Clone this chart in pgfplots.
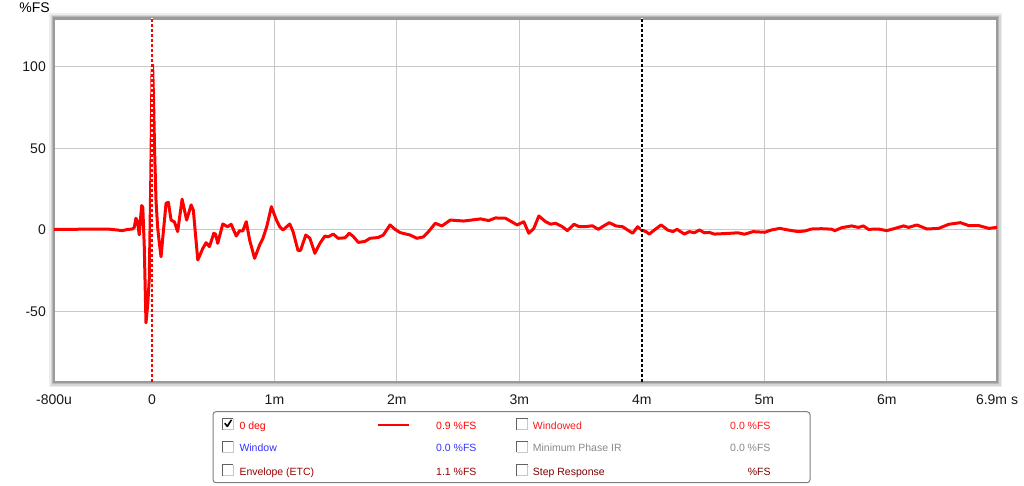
\documentclass[border=0pt]{standalone}
\usepackage{pgfplots}
\pgfplotsset{compat=1.18}
\usepackage{fontspec}
\setmainfont{Liberation Sans}
\definecolor{gridc}{HTML}{C8C8C8}
\definecolor{framec}{HTML}{9A9A9A}
\definecolor{winblue}{HTML}{3333FF}
\definecolor{envred}{HTML}{990000}
\definecolor{wdred}{HTML}{FF1A1A}
\definecolor{mpgray}{HTML}{8A8A8A}
\definecolor{stepred}{HTML}{7F0000}
\definecolor{boxgray}{HTML}{808080}
\definecolor{pure red}{HTML}{FF0000}

\pgfplotstableread{
t v
-0.800 0.3
-0.678 0.4
-0.555 0.5
-0.432 0.6
-0.350 0.5
-0.284 0.0
-0.243 -0.4
-0.202 0.3
-0.161 0.6
-0.145 1.5
-0.131 7.2
-0.118 5.0
-0.104 -3.0
-0.090 10.0
-0.084 15.0
-0.075 14.0
-0.063 -10.0
-0.049 -57.0
-0.034 -45.0
-0.022 -30.0
-0.010 30.0
0.000 95.0
0.005 101.4
0.013 80.0
0.021 50.0
0.033 18.0
0.046 2.0
0.060 -8.0
0.074 -16.4
0.088 -5.0
0.115 16.4
0.134 17.0
0.156 6.1
0.183 5.0
0.210 -1.0
0.246 18.9
0.283 6.1
0.320 15.4
0.338 12.0
0.374 -18.4
0.415 -11.3
0.442 -7.8
0.469 -10.2
0.505 -2.0
0.519 -2.5
0.537 -8.2
0.578 3.7
0.617 2.0
0.647 3.5
0.688 -3.7
0.715 -0.5
0.742 -0.5
0.770 5.1
0.797 -6.0
0.838 -17.4
0.879 -9.2
0.906 -5.1
0.937 2.0
0.975 14.3
1.016 6.1
1.043 2.0
1.070 0.0
1.125 3.7
1.152 -1.0
1.193 -12.7
1.213 -12.5
1.256 -3.1
1.289 -5.0
1.330 -14.3
1.371 -8.2
1.412 -3.7
1.439 -4.2
1.480 -2.5
1.521 -5.1
1.576 -4.8
1.611 -2.0
1.644 -4.0
1.685 -7.6
1.739 -7.0
1.780 -5.1
1.848 -4.6
1.889 -3.1
1.944 3.1
1.985 0.4
2.026 -1.6
2.108 -3.1
2.163 -5.1
2.217 -4.2
2.258 -1.0
2.313 4.1
2.368 2.5
2.436 6.1
2.545 5.5
2.682 6.8
2.750 5.8
2.805 7.4
2.887 7.2
2.982 3.1
3.036 5.1
3.077 -2.0
3.118 1.0
3.159 8.6
3.214 5.1
3.255 3.6
3.296 4.1
3.351 2.0
3.392 -0.4
3.446 3.5
3.487 2.1
3.542 2.1
3.597 2.6
3.643 0.4
3.733 4.5
3.788 2.5
3.843 2.0
3.925 -2.0
3.966 2.0
3.998 0.0
4.034 -1.0
4.061 -2.5
4.102 0.0
4.157 3.1
4.211 0.0
4.252 -1.0
4.288 0.4
4.347 -2.5
4.388 -1.0
4.429 -1.7
4.470 0.0
4.511 -1.7
4.552 -1.5
4.593 -2.5
4.703 -2.1
4.785 -1.7
4.839 -2.6
4.908 -1.0
5.003 -1.4
5.058 0.0
5.126 1.0
5.195 0.0
5.277 -1.0
5.331 -0.6
5.385 0.6
5.467 0.8
5.549 0.5
5.576 -0.4
5.631 1.4
5.713 2.5
5.768 1.6
5.809 2.5
5.850 0.4
5.932 0.6
6.000 -0.4
6.068 1.0
6.137 2.5
6.178 1.6
6.246 3.1
6.328 0.6
6.424 1.0
6.506 3.5
6.601 4.5
6.669 2.7
6.751 2.7
6.833 1.0
6.900 1.6
}\irdata

\begin{document}
\begin{tikzpicture}[x=1pt,y=1pt]
\path[use as bounding box, fill=white] (0,0) rectangle (1024,485);
% soft frame shadow around plot area
\draw[line width=10pt, black!7] (54,103) rectangle (997,466.5);
\draw[line width=7pt, black!16] (54,103) rectangle (997,466.5);
\draw[line width=4.5pt, black!28] (54,103) rectangle (997,466.5);
\begin{axis}[
  at={(54pt,103pt)}, anchor=south west,
  scale only axis, width=943pt, height=363.5pt,
  xmin=-0.8, xmax=6.9, ymin=-93.25, ymax=129.75,
  axis background/.style={fill=white},
  axis line style={draw=framec, line width=2.5pt},
  xtick={-0.8,0,1,2,3,4,5,6,6.9},
  xticklabels={-800u,0,1m,2m,3m,4m,5m,6m,6.9m s},
  ytick={-50,0,50,100},
  yticklabels={-50,0,50,100},
  major tick length=0pt,
  grid=major,
  major grid style={draw=gridc, line width=1pt},
  ticklabel style={font=\fontsize{14}{16}\selectfont, text=black!90},
  xticklabel style={anchor=base, inner sep=0pt, yshift=-22pt},
  yticklabel style={anchor=east, inner sep=0pt, xshift=-8pt},
  clip=true,
]
\addplot[pure red, line width=3pt, line join=round, line cap=round] table[x=t, y=v] {\irdata};
\draw[white, line width=1.2pt] (axis cs:0,-93.25) -- (axis cs:0,129.75);
\draw[pure red, line width=1.2pt, dash pattern=on 3pt off 2pt] (axis cs:0,-93.25) -- (axis cs:0,129.75);
\draw[white, line width=2pt] (axis cs:4,-93.25) -- (axis cs:4,129.75);
\draw[black, line width=2pt, dash pattern=on 3pt off 2pt] (axis cs:4,-93.25) -- (axis cs:4,129.75);
\end{axis}
% y unit label
\node[anchor=base east, inner sep=0pt, font=\fontsize{14}{16}\selectfont] at (50,472.3) {\%FS};
% legend box
\draw[boxgray, line width=1pt, rounded corners=3pt] (213,2.3) rectangle (810,73.3);
\def\cbox#1#2{%
  \fill[white] (#1,#2-0.5) rectangle (#1+11,#2+10.5);
  \draw[black!22, line width=1pt] (#1+11,#2+10.5) -- (#1+11,#2-0.5) -- (#1,#2-0.5);
  \draw[black!62, line width=1pt] (#1,#2-0.5) -- (#1,#2+10.5) -- (#1+11,#2+10.5);
}
\cbox{222.3}{56}
\cbox{222.3}{33.3}
\cbox{222.3}{10}
\cbox{516.7}{56}
\cbox{516.7}{33.3}
\cbox{516.7}{10}
\draw[black, line width=1.6pt, line cap=round, line join=round] (225,61.5) -- (227.3,58.6) -- (231.2,64.8);
\begin{scope}[every node/.style={inner sep=0pt, font=\fontsize{10.5}{12}\selectfont}]
\node[anchor=base west, text=pure red] at (239.3,56) {0 deg};
\node[anchor=base west, text=winblue] at (239.3,33.3) {Window};
\node[anchor=base west, text=envred] at (239.3,10) {Envelope (ETC)};
\node[anchor=base east, text=pure red] at (476.7,56) {0.9 \%FS};
\node[anchor=base east, text=winblue] at (476.7,33.3) {0.0 \%FS};
\node[anchor=base east, text=envred] at (476.7,10) {1.1 \%FS};
\node[anchor=base west, text=wdred] at (532.7,56) {Windowed};
\node[anchor=base west, text=mpgray] at (532.7,33.3) {Minimum Phase IR};
\node[anchor=base west, text=stepred] at (532.7,10) {Step Response};
\node[anchor=base east, text=wdred] at (770.7,56) {0.0 \%FS};
\node[anchor=base east, text=mpgray] at (770.7,33.3) {0.0 \%FS};
\node[anchor=base east, text=stepred] at (770.7,10) {\%FS};
\end{scope}
\draw[pure red, line width=2pt] (378,60) -- (409,60);
\end{tikzpicture}
\end{document}
